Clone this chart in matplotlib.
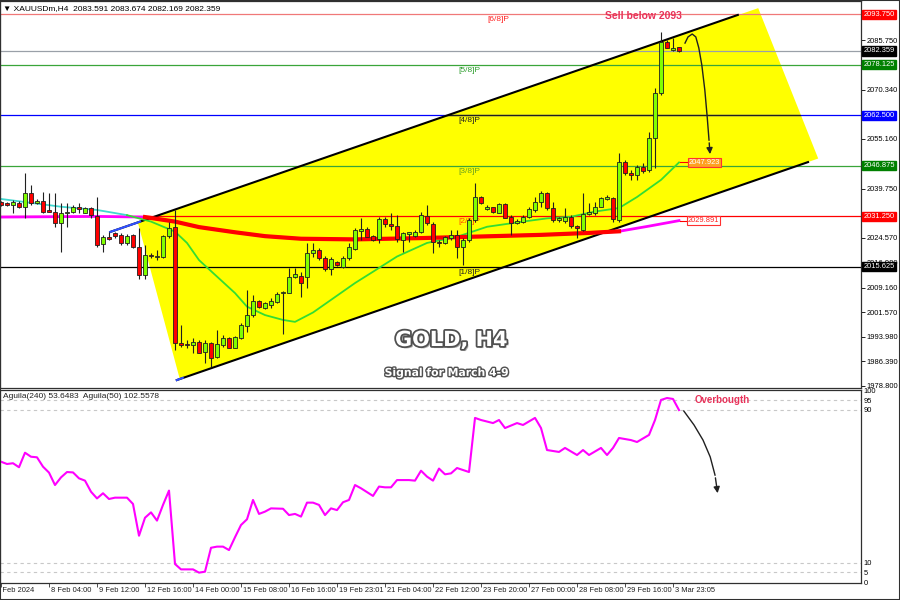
import matplotlib
matplotlib.use('Agg')
import matplotlib.pyplot as plt
import matplotlib.patheffects as pe
from matplotlib.patches import Polygon, Rectangle
from matplotlib.transforms import blended_transform_factory
import numpy as np

plt.rcParams['font.family'] = ['Liberation Sans', 'DejaVu Sans']

# ---------------- data ----------------
opens = [2035.8, 2035.2, 2034.7, 2035.5, 2034.0, 2038.3, 2035.5, 2036.1, 2033.0, 2032.7,
         2029.1, 2032.2, 2032.5, 2034.0, 2032.4, 2033.7, 2031.4, 2022.7, 2024.7, 2026.0,
         2025.5, 2022.9, 2025.5, 2021.6, 2013.1, 2019.0, 2018.6, 2018.6, 2025.1, 2027.8,
         1992.2, 1991.7, 1991.4, 1992.5, 1989.4, 1992.0, 1987.8, 1991.4, 1993.5, 1990.6,
         1993.5, 1997.3, 2000.6, 2005.0, 2002.8, 2003.8, 2004.8, 2007.4, 2007.6, 2012.6,
         2012.8, 2012.6, 2019.8, 2020.8, 2018.5, 2014.8, 2017.2, 2015.7, 2018.2, 2021.0,
         2026.8, 2027.2, 2025.1, 2024.1, 2030.3, 2028.9, 2028.2, 2023.9, 2025.9, 2025.1,
         2026.5, 2031.4, 2028.8, 2023.4, 2022.9, 2024.4, 2025.6, 2021.8, 2023.9, 2030.1,
         2037.3, 2033.4, 2034.0, 2032.4, 2034.9, 2031.1, 2029.3, 2029.6, 2031.1, 2033.2,
         2035.6, 2038.5, 2033.7, 2030.1, 2029.9, 2031.1, 2028.2, 2027.0, 2031.9, 2032.2,
         2034.2, 2036.6, 2037.0, 2030.1, 2048.1, 2044.5, 2044.0, 2046.6, 2045.6, 2055.3,
         2069.3, 2085.2, 2082.7, 2083.591]
highs = [2036.1, 2035.6, 2036.3, 2036.0, 2044.5, 2040.9, 2036.5, 2038.6, 2038.3, 2038.5,
         2035.2, 2035.2, 2034.7, 2035.2, 2034.2, 2034.2, 2037.3, 2025.5, 2026.5, 2026.5,
         2026.0, 2025.8, 2025.8, 2027.5, 2022.4, 2019.8, 2020.8, 2025.5, 2029.6, 2033.2,
         1997.6, 1993.0, 1993.5, 1993.0, 1993.0, 1992.5, 1996.1, 1994.5, 1994.0, 1994.2,
         1998.1, 2008.4, 2006.9, 2005.4, 2004.8, 2005.9, 2007.9, 2008.0, 2015.1, 2015.1,
         2014.1, 2022.9, 2022.9, 2021.3, 2019.0, 2018.7, 2017.5, 2019.0, 2022.9, 2027.5,
         2030.6, 2028.0, 2025.5, 2031.1, 2031.1, 2032.2, 2031.6, 2026.5, 2026.5, 2027.0,
         2032.7, 2034.7, 2029.6, 2023.9, 2025.1, 2027.0, 2027.0, 2024.4, 2030.6, 2041.4,
         2037.5, 2034.7, 2034.2, 2035.4, 2035.2, 2031.6, 2030.3, 2031.6, 2034.2, 2037.3,
         2039.2, 2038.9, 2035.8, 2031.1, 2033.7, 2031.6, 2028.5, 2038.3, 2035.2, 2035.8,
         2037.3, 2037.8, 2037.3, 2050.7, 2048.6, 2045.6, 2047.1, 2047.6, 2057.4, 2070.8,
         2088.3, 2085.8, 2086.3, 2083.674]
lows = [2034.5, 2034.3, 2032.2, 2033.9, 2030.6, 2034.7, 2035.0, 2032.2, 2032.5, 2028.0,
        2020.3, 2028.0, 2032.2, 2032.2, 2032.2, 2030.6, 2021.8, 2020.3, 2023.9, 2024.4,
        2022.4, 2022.4, 2021.3, 2012.0, 2011.7, 2018.2, 2017.7, 2018.2, 2024.4, 1989.9,
        1990.9, 1990.4, 1988.9, 1988.9, 1985.8, 1984.7, 1987.3, 1990.9, 1990.4, 1990.4,
        1993.2, 1995.6, 2000.2, 2002.8, 2002.5, 2002.8, 2004.3, 1995.0, 2007.4, 2012.1,
        2006.4, 2009.0, 2018.7, 2017.7, 2014.3, 2013.1, 2015.9, 2015.1, 2017.7, 2020.8,
        2023.9, 2024.7, 2023.7, 2022.9, 2028.0, 2027.0, 2023.4, 2020.3, 2023.4, 2024.7,
        2026.0, 2028.5, 2019.8, 2021.8, 2022.6, 2023.9, 2018.2, 2016.2, 2023.4, 2029.6,
        2035.0, 2033.2, 2032.2, 2032.2, 2030.6, 2025.5, 2028.9, 2029.1, 2030.6, 2032.7,
        2034.2, 2033.2, 2029.6, 2029.6, 2029.1, 2027.5, 2024.4, 2026.8, 2031.6, 2031.6,
        2034.0, 2036.3, 2029.6, 2029.6, 2044.0, 2042.5, 2042.5, 2044.5, 2045.0, 2046.1,
        2068.8, 2083.2, 2082.5, 2082.169]
closes = [2034.7, 2034.7, 2035.6, 2034.2, 2038.3, 2035.5, 2036.1, 2032.7, 2032.7, 2029.1,
          2032.2, 2032.7, 2034.0, 2033.6, 2033.7, 2031.6, 2022.4, 2024.7, 2024.1, 2025.1,
          2022.9, 2025.2, 2021.6, 2013.1, 2019.3, 2018.9, 2019.0, 2025.1, 2027.5, 1992.2,
          1991.4, 1991.4, 1992.5, 1989.1, 1992.2, 1987.3, 1991.7, 1993.5, 1990.6, 1994.0,
          1997.6, 2000.7, 2005.0, 2003.3, 2004.3, 2005.0, 2007.2, 2007.9, 2012.6, 2013.4,
          2010.5, 2019.8, 2020.8, 2018.2, 2014.8, 2017.9, 2016.2, 2018.2, 2021.6, 2027.0,
          2027.4, 2024.9, 2023.9, 2030.4, 2028.9, 2028.2, 2024.1, 2026.0, 2026.0, 2026.5,
          2031.6, 2029.1, 2023.4, 2022.9, 2024.7, 2025.5, 2021.8, 2023.9, 2030.1, 2037.3,
          2035.2, 2034.2, 2032.5, 2035.0, 2030.8, 2029.3, 2029.9, 2031.1, 2033.4, 2035.8,
          2038.5, 2033.7, 2030.1, 2030.6, 2031.1, 2028.2, 2027.5, 2031.8, 2032.7, 2034.2,
          2036.8, 2037.1, 2030.3, 2048.1, 2044.5, 2044.0, 2046.6, 2045.3, 2055.3, 2069.3,
          2085.2, 2083.4, 2083.4, 2082.359]

# slow MA (magenta / thick red)
ma_slow_idx = [0, 8, 16, 24, 29, 33, 39, 44, 50, 59, 70, 76, 82, 90, 98, 103, 108, 113]
ma_slow_val = [2031.0, 2031.1, 2031.2, 2031.0, 2029.6, 2027.9, 2026.3, 2025.1, 2024.3,
               2024.1, 2024.5, 2024.8, 2025.1, 2025.5, 2026.1, 2026.6, 2028.2, 2029.9]
# fast MA (cyan part then green part)
ma_cyan_idx = [0, 5, 10, 16, 21]
ma_cyan_val = [2036.6, 2035.4, 2034.2, 2033.2, 2031.6]
ma_fast_idx = [21, 25, 29, 31, 33, 36, 39, 41, 44, 47, 49, 52, 55, 59, 62, 66, 71, 76, 81,
               87, 91, 95, 99, 103, 106, 110, 113]
ma_fast_val = [2031.6, 2029.6, 2026.5, 2023.0, 2017.7, 2012.6, 2007.5, 2003.3, 2000.7,
               1999.2, 1998.6, 2001.5, 2005.4, 2010.6, 2014.1, 2018.8, 2023.0, 2024.9,
               2028.0, 2029.6, 2030.6, 2031.1, 2032.7, 2033.8, 2037.2, 2042.5, 2047.9]
ma_fast_label = '2047.923'
ma_slow_label = '2029.891'

# oscillator
osc_idx = [0, 1, 2, 3, 4, 5, 6, 7, 8, 9, 10, 11, 12, 13, 14, 15, 16, 17, 18, 19, 21, 22,
           23, 24, 25, 26, 27, 28, 29, 30, 32, 33, 34, 35, 36, 37, 38, 39, 40, 41, 42, 43,
           44, 45, 47, 48, 49, 50, 51, 52, 53, 54, 55, 56, 57, 58, 59, 60, 62, 63, 64, 65,
           66, 68, 69, 70, 71, 72, 73, 74, 75, 76, 78, 79, 80, 82, 83, 84, 86, 87, 89, 90,
           91, 93, 94, 96, 97, 98, 100, 101, 102, 103, 105, 106, 108, 109, 110, 111, 112, 113]
osc_val = [62.9, 61.7, 62.1, 60.0, 67.6, 65.5, 65.2, 60.3, 57.2, 50.7, 54.7, 57.5, 57.3,
           54.2, 53.0, 47.2, 43.7, 46.4, 43.4, 44.1, 44.1, 40.8, 24.2, 33.6, 36.4, 32.1,
           40.3, 47.8, 9.4, 6.6, 6.6, 4.9, 5.4, 17.9, 18.5, 18.5, 16.7, 23.4, 29.8, 32.8,
           42.9, 35.6, 36.8, 38.5, 38.3, 35.0, 35.6, 34.2, 41.5, 41.5, 40.3, 35.0, 38.5,
           37.6, 41.7, 42.9, 50.7, 49.0, 45.0, 49.9, 49.5, 49.5, 53.3, 53.3, 53.0, 58.2,
           55.1, 53.0, 59.3, 56.3, 56.8, 59.6, 57.5, 85.8, 84.7, 83.1, 84.7, 80.5, 83.1,
           82.1, 85.8, 80.5, 69.0, 68.0, 70.1, 66.4, 69.0, 66.4, 70.1, 66.4, 70.1, 75.3,
           74.2, 73.2, 76.9, 84.7, 95.2, 96.2, 95.7, 89.9]
osc_levels = [95, 90, 10, 5]
osc_ticks = [100, 95, 90, 10, 5, 0]

# murrey levels
level_prices = [2093.750, 2078.125, 2062.500, 2046.875, 2031.250, 2015.625]
level_colors = ['#f07878', '#3aa53a', '#0000ff', '#3aa53a', '#ff0000', '#000000']
level_box = ['#ff0000', '#008000', '#0000ff', '#008000', '#ff0000', '#000000']
level_names = ['[6/8]P', '[5/8]P', '[4/8]P', '[3/8]P', '[2/8]P', '[1/8]P']
level_txt_col = ['#ff2020', '#2e9e2e', '#222222', '#6aa01e', '#ff4a00', '#222222']
level_txt_idx = [81.0, 76.3, 76.3, 76.3, 76.3, 76.3]
current_price = 2082.359

price_ticks = [2085.750, 2070.340, 2055.160, 2039.750, 2024.570, 2016.980, 2009.160,
               2001.570, 1993.980, 1986.390, 1978.800]

# channel (index, price)
chan_up_idx = [18.2, 122.8]
chan_up_val = [2026.4, 2093.5]
chan_lo_idx = [29.3, 134.5]
chan_lo_val = [1980.6, 2048.0]
yellow_idx = [22.8, 126.2, 136.2, 29.8]
yellow_val = [2029.4, 2095.6, 2049.1, 1980.9]

# curved arrows
arr1_idx = [114.0, 114.5, 115.2, 115.8, 116.3, 116.8, 117.3, 117.7, 118.0, 118.2]
arr1_val = [2084.8, 2086.7, 2087.6, 2086.7, 2083.3, 2078.0, 2070.3, 2061.9, 2054.8, 2049.6]
arr2_idx = [113.8, 115.5, 117.0, 118.2, 119.0, 119.5]
arr2_val = [89.4, 82.1, 74.2, 65.4, 55.9, 45.0]

date_labels = ["6 Feb 2024", "8 Feb 04:00", "9 Feb 12:00", "12 Feb 16:00", "14 Feb 00:00",
               "15 Feb 08:00", "16 Feb 16:00", "19 Feb 23:01", "21 Feb 04:00",
               "22 Feb 12:00", "23 Feb 20:00", "27 Feb 00:00", "28 Feb 08:00",
               "29 Feb 16:00", "3 Mar 23:05"]
date_idx = [0, 8, 16, 24, 32, 40, 48, 56, 64, 72, 80, 88, 96, 104, 112]

SMALL = 5.4

# ---------------- figure ----------------
fig = plt.figure(figsize=(9, 6), dpi=100)
fig.patch.set_facecolor('white')

ax = fig.add_axes([0, 1 - 388 / 600, 861 / 900, 387 / 600])
ax.set_xlim(-1 / 6, 143.33)
ax.set_ylim(1978.15, 2097.81)
ax.set_facecolor('white')

# yellow channel box
poly = Polygon(list(zip(yellow_idx, yellow_val)), closed=True, facecolor='#ffff00',
               edgecolor='none', zorder=0.5)
ax.add_patch(poly)

# level lines
for v, col in zip(level_prices, level_colors):
    ax.axhline(v, color=col, lw=0.9, zorder=1)
ln = ax.axhline(level_prices[2], color='#202020', lw=0.9, zorder=1.1)
ln.set_clip_path(poly)
ax.axhline(current_price, color='#9aa0a8', lw=0.9, zorder=1)

for name, v, col, xi in zip(level_names, level_prices, level_txt_col, level_txt_idx):
    ax.text(xi, v - 0.6, name, fontsize=6, color=col, va='top', ha='left', zorder=1.2)

# channel lines
ax.plot(chan_up_idx, chan_up_val, color='black', lw=1.5, zorder=2)
ax.plot(chan_lo_idx, chan_lo_val, color='black', lw=1.5, zorder=2)
ax.plot([chan_up_idx[0], 23.2], [chan_up_val[0], 2029.6], color='#3050ff', lw=1.5, zorder=2.1)
ax.plot([chan_lo_idx[0], 30.3], [chan_lo_val[0], 1981.3], color='#3050ff', lw=1.5, zorder=2.1)

# moving averages
ax.plot(ma_slow_idx, ma_slow_val, color='#ff00ff', lw=2.0, zorder=2.5)
sl = [i for i, x in enumerate(ma_slow_idx) if 24 <= x <= 103]
ax.plot([ma_slow_idx[i] for i in sl], [ma_slow_val[i] for i in sl], color='#ff0000',
        lw=3.0, zorder=2.6)
ax.plot(ma_cyan_idx, ma_cyan_val, color='#40d8d0', lw=1.3, zorder=2.5)
ax.plot(ma_fast_idx, ma_fast_val, color='#33dd33', lw=1.3, zorder=2.5)

# candles
idx = np.arange(len(opens))
o = np.array(opens); c = np.array(closes); h = np.array(highs); l = np.array(lows)
up = c >= o
ax.vlines(idx, l, h, color='#202020', lw=0.8, zorder=4)
bb = np.minimum(o, c)
bh = np.maximum(np.abs(c - o), 0.35)
ax.bar(idx[up], bh[up], bottom=bb[up], width=0.66, color='#80ff00', edgecolor='#202020',
       lw=0.6, zorder=5)
ax.bar(idx[~up], bh[~up], bottom=bb[~up], width=0.66, color='#ff0000', edgecolor='#202020',
       lw=0.6, zorder=5)

# MA end labels
ax.plot([113.2, 114.6], [ma_fast_val[-1], ma_fast_val[-1]], color='red', lw=0.8, zorder=6)
ax.text(114.6, ma_fast_val[-1], ma_fast_label, fontsize=SMALL, color='white', va='center',
        ha='left', zorder=7,
        bbox=dict(boxstyle='square,pad=0.12', fc='#ffa020', ec='#ff3030', lw=0.8))
ax.plot([113.2, 114.4], [ma_slow_val[-1], ma_slow_val[-1]], color='red', lw=0.8, zorder=6)
ax.text(114.4, ma_slow_val[-1], ma_slow_label, fontsize=SMALL, color='#ff2020', va='center',
        ha='left', zorder=7,
        bbox=dict(boxstyle='square,pad=0.12', fc='white', ec='#ff3030', lw=0.8))

# curved arrow
ax.plot(arr1_idx[:-1], arr1_val[:-1], color='#202020', lw=1.0, zorder=8)
ax.annotate('', xy=(arr1_idx[-1], arr1_val[-1]), xytext=(arr1_idx[-2], arr1_val[-2]),
            arrowprops=dict(arrowstyle='-|>', color='#202020', lw=1.0, mutation_scale=9),
            zorder=8)

ax.text(0.747, 0.962, 'Sell below 2093', transform=ax.transAxes, fontsize=7.5,
        fontweight='bold', color='#e8325a', ha='center', va='center', zorder=9)

txt_fx = [pe.SimplePatchShadow(offset=(1.5, -1.5), shadow_rgbFace='#888888', alpha=0.7),
          pe.Stroke(linewidth=2.6, foreground='#505050'), pe.Normal()]
ax.text(0.524, 0.124, 'GOLD, H4', transform=ax.transAxes, fontsize=15, fontweight='bold',
        color='white', ha='center', va='center', family=['DejaVu Sans'], path_effects=txt_fx,
        zorder=9)
txt_fx2 = [pe.SimplePatchShadow(offset=(1, -1), shadow_rgbFace='#888888', alpha=0.7),
           pe.Stroke(linewidth=2.0, foreground='#505050'), pe.Normal()]
ax.text(0.519, 0.039, 'Signal for March 4-9', transform=ax.transAxes, fontsize=7.8,
        fontweight='bold', color='white', ha='center', va='center', family=['DejaVu Sans'],
        path_effects=txt_fx2, zorder=9)

# header
fig.text(3 / 900, 1 - 9 / 600, '\u25bc XAUUSDm,H4  2083.591 2083.674 2082.169 2082.359',
         fontsize=6, color='black', va='center', ha='left')

# right axis
ax.yaxis.tick_right()
ax.set_yticks(price_ticks)
ax.set_yticklabels([f'{v:.3f}' for v in price_ticks], fontsize=SMALL)
ax.tick_params(axis='y', direction='out', length=3, width=0.6, pad=1)
ax.set_xticks([])
for s in ax.spines.values():
    s.set_color('#303030'); s.set_linewidth(0.9)

trans = blended_transform_factory(ax.transAxes, ax.transData)
for v, col in zip(level_prices, level_box):
    ax.text(1.003, v, f'{v:.3f}', transform=trans, fontsize=SMALL, color='white', va='center',
            ha='left', clip_on=False, zorder=10,
            bbox=dict(boxstyle='square,pad=0.15', fc=col, ec=col))
ax.text(1.003, current_price, f'{current_price:.3f}', transform=trans, fontsize=SMALL,
        color='white', va='center', ha='left', clip_on=False, zorder=10,
        bbox=dict(boxstyle='square,pad=0.15', fc='black', ec='black'))

# ---------------- indicator ----------------
ax2 = fig.add_axes([0, 1 - 583 / 600, 861 / 900, 193 / 600])
ax2.set_xlim(-1 / 6, 143.33)
ax2.set_ylim(-0.52, 100.39)
for lv in osc_levels:
    ax2.axhline(lv, color='#c8c8c8', lw=0.8, ls=(0, (3, 3)), zorder=1)
ax2.plot(osc_idx, osc_val, color='#ff00ff', lw=1.5, zorder=3)
ax2.plot(arr2_idx[:-1], arr2_val[:-1], color='#202020', lw=1.0, zorder=8)
ax2.annotate('', xy=(arr2_idx[-1], arr2_val[-1]), xytext=(arr2_idx[-2], arr2_val[-2]),
             arrowprops=dict(arrowstyle='-|>', color='#202020', lw=1.0, mutation_scale=9))
ax2.text(0.8386, 0.948, 'Overbougth', transform=ax2.transAxes, fontsize=7,
         fontweight='bold', color='#e8325a', ha='center', va='center', zorder=9)
ax2.text(0.0035, 0.964, 'Aguila(240) 53.6483  Aguila(50) 102.5578', transform=ax2.transAxes,
         fontsize=6, color='#202020', ha='left', va='center')

ax2.yaxis.tick_right()
ax2.set_yticks(osc_ticks)
ax2.set_yticklabels([str(t) for t in osc_ticks], fontsize=SMALL)
ax2.tick_params(axis='y', direction='out', length=0, pad=2)
ax2.set_xticks(date_idx)
ax2.set_xticklabels([])
ax2.tick_params(axis='x', direction='out', length=3, width=0.6, color='#303030')
for s in ax2.spines.values():
    s.set_color('#303030'); s.set_linewidth(0.9)
xtr = blended_transform_factory(ax2.transData, fig.transFigure)
for i, lab in zip(date_idx, date_labels):
    xi = i + 0.3 if i > 0 else i - 0.9
    ax2.text(xi, 1 - 590 / 600, lab, transform=xtr, fontsize=SMALL, color='#202020',
             ha='left', va='center', clip_on=False)

# figure border
fig.add_artist(Rectangle((0, 0), 1, 1, transform=fig.transFigure, fill=False,
                         edgecolor='#303030', lw=1.5))

fig.savefig('out.png', dpi=100)
